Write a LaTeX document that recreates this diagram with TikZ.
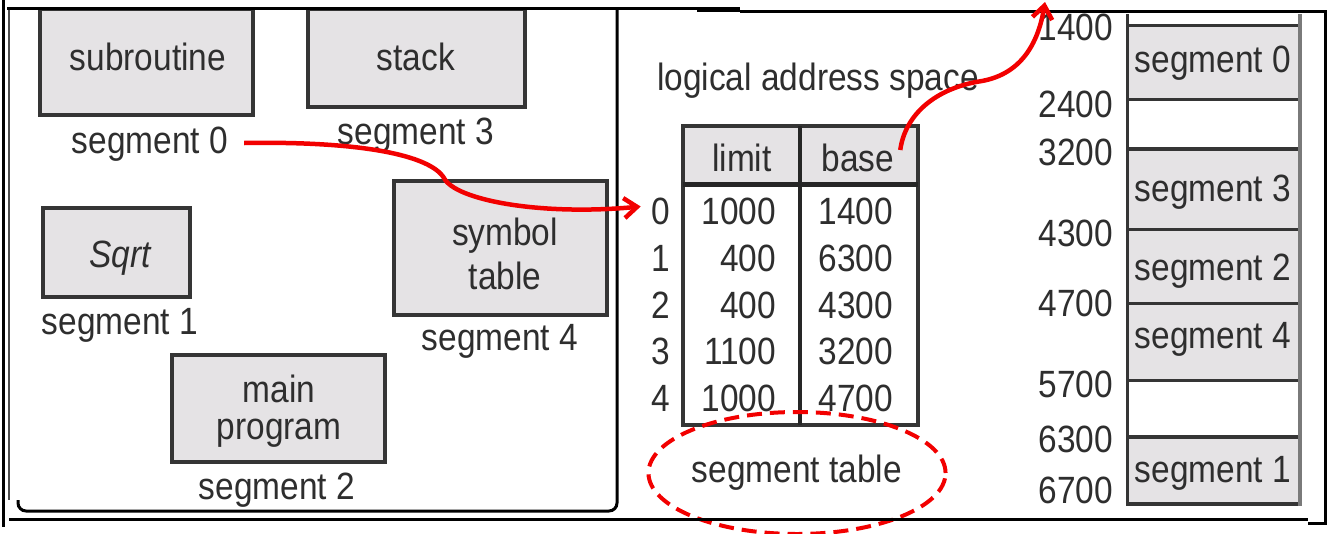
\documentclass[tikz,border=0pt]{standalone}
\usepackage{fontspec}
\setmainfont[FakeStretch=0.88]{Liberation Sans}
\usetikzlibrary{arrows.meta,shapes.geometric}
\definecolor{boxfill}{HTML}{E5E3E5}
\definecolor{boxline}{HTML}{353535}
\definecolor{txt}{HTML}{2E2E2E}
\definecolor{redline}{HTML}{F20000}
\definecolor{greyline}{HTML}{7A7A7A}
\begin{document}
\begin{tikzpicture}[x=1pt,y=-1pt,
  segbox/.style={draw=boxline, line width=3.5pt, fill=boxfill},
  lbl/.style={text=txt, font=\fontsize{38}{42}\selectfont, inner sep=0pt, outer sep=0pt},
  seglbl/.style={lbl, yshift=-2pt},
  numr/.style={lbl, anchor=east},
  frameline/.style={line width=3pt, black},
  redarrow/.style={draw=redline, line width=4.5pt,
    -{Straight Barb[length=13pt,width=20pt,line width=4.5pt]}},
  redell/.style={ellipse, draw=redline, line width=4pt, dash pattern=on 15pt off 8pt,
    minimum width=294pt, minimum height=122pt, inner sep=0pt}
]
\useasboundingbox (0,0) rectangle (1337,533);
\fill[white] (0,0) rectangle (1337,533);

% ---------- left panel: segments ----------
\draw[segbox] (40,9) rectangle (253,115);
\node[lbl] (tsub) at (148,57) {subroutine};
\node[seglbl] (s0) at (150,142) {segment 0};

\draw[segbox] (308,9) rectangle (525,107);
\node[lbl] (tstack) at (416,57) {stack};
\node[seglbl] (s3) at (416,133) {segment 3};

\draw[segbox] (43,208) rectangle (190,297);
\node[lbl, font=\fontsize{38}{42}\selectfont\itshape] (tsqrt) at (120,258) {Sqrt};
\node[seglbl] (s1) at (120,323) {segment 1};

\draw[segbox] (394,181) rectangle (607,315);
\node[lbl, align=center, font=\fontsize{38}{44}\selectfont] (tsym) at (505,254) {symbol\\table};
\node[seglbl] (s4) at (500,339) {segment 4};

\draw[segbox] (172,355) rectangle (385,462);
\node[lbl, align=center, font=\fontsize{38}{37}\selectfont] (tmain) at (279,411) {main\\program};
\node[seglbl] (s2) at (277,488) {segment 2};

% ---------- middle: segment table ----------
\node[seglbl] (las) at (818,79) {logical address space};

\fill[boxfill] (683,126) rectangle (918,184);
\draw[line width=4pt, boxline] (683,126) rectangle (918,425);
\draw[line width=4pt, black!85] (800,126) -- (800,425);
\draw[line width=5pt, black!85] (683,184) -- (918,184);

\node[lbl] (hlim) at (742,158) {limit};
\node[lbl] (hbase) at (858,158) {base};

\foreach \i/\l/\b [count=\k from 0] in {0/1000/1400,1/400/6300,2/400/4300,3/1100/3200,4/1000/4700}{
  \node[lbl] (r\k i) at (661,{211.5+46.75*\k}) {\i};
  \node[numr] (r\k l) at (776,{211.5+46.75*\k}) {\l};
  \node[numr] (r\k b) at (893,{211.5+46.75*\k}) {\b};
}

\node[redell, text=txt, font=\fontsize{38}{42}\selectfont] (stab) at (797,473) {segment table};

% ---------- right: physical memory ----------
\fill[white] (1127,14) rectangle (1300,25);
\fill[boxfill] (1127,25) rectangle (1300,99);
\fill[boxfill] (1127,149) rectangle (1300,380);
\fill[boxfill] (1127,437) rectangle (1300,504);
\foreach \yy in {25,99,229,303,380}{
  \draw[line width=3pt, boxline] (1127,\yy) -- (1300,\yy);
}
\foreach \yy in {149,437,504}{
  \draw[line width=4pt, boxline] (1127,\yy) -- (1300,\yy);
}
\draw[line width=3pt, boxline] (1127,14) -- (1127,506);
\draw[line width=4pt, greyline] (1300,14) -- (1300,506);

\node[seglbl] (m0) at (1213,61) {segment 0};
\node[seglbl] (m3) at (1213,190) {segment 3};
\node[seglbl] (m2) at (1213,269) {segment 2};
\node[seglbl] (m4) at (1213,337) {segment 4};
\node[seglbl] (m1) at (1213,471) {segment 1};

\node[numr] (a1400) at (1113,27) {1400};
\node[numr] (a2400) at (1113,104) {2400};
\node[numr] (a3200) at (1113,152) {3200};
\node[numr] (a4300) at (1113,233) {4300};
\node[numr] (a4700) at (1113,303) {4700};
\node[numr] (a5700) at (1113,384) {5700};
\node[numr] (a6300) at (1113,439) {6300};
\node[numr] (a6700) at (1113,490) {6700};

% ---------- frame ----------
\draw[frameline] (3,0) -- (3,527);
\draw[line width=1.5pt, black!70] (9,8) -- (9,500);
\draw[frameline] (7,8) -- (740,8);
\draw[line width=5pt] (697,9) -- (740,9);
\draw[frameline] (740,11) -- (1325,11) -- (1325,523) -- (1308,523);
\draw[frameline, rounded corners=8pt] (617,10) -- (617,511) -- (18,511) -- (18,500);
\draw[frameline] (9,519) -- (1308,519);

% ---------- red connectors ----------
\coordinate (memtop) at (1045,2);
\draw[redarrow] ([xshift=16pt,yshift=1pt]s0.east) .. controls (360,141) and (430,155) .. (444,178)
  .. controls (455,200) and (540,216) .. ([xshift=-11pt,yshift=5pt]r0i.west);
\draw[redarrow] ([xshift=6pt,yshift=8pt]hbase.east) .. controls (905,115) and (935,88) .. (982,81)
  .. controls (1020,74) and (1038,45) .. (memtop);
\end{tikzpicture}
\end{document}
